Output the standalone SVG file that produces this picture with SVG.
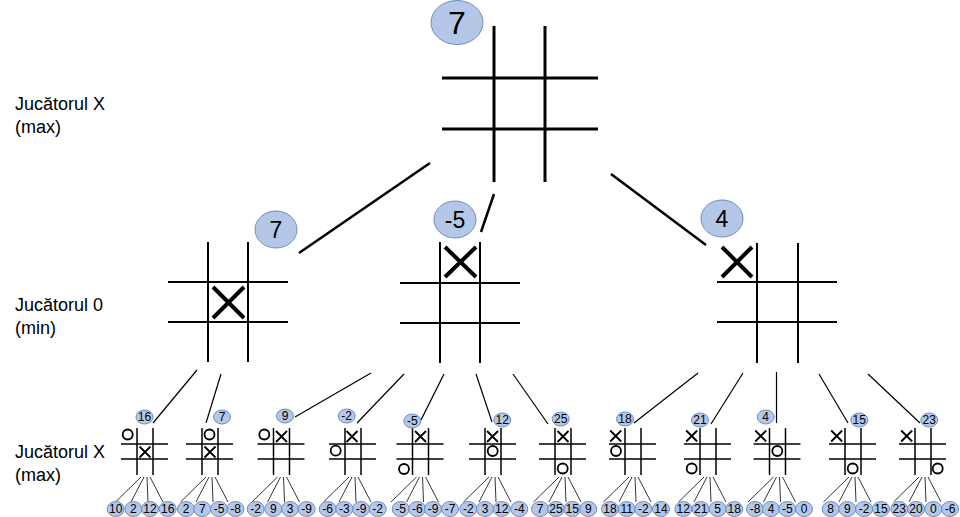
<svg xmlns="http://www.w3.org/2000/svg" width="960" height="517" viewBox="0 0 960 517">
<style>
.bg{fill:#fff}
.lbl{font-family:"Liberation Sans",Arial,sans-serif;font-size:18px;fill:#000}
.v{fill:#b4c7e7;stroke:#6a8ec6;stroke-width:1}
.vt{font-family:"Liberation Sans",Arial,sans-serif;fill:#000;text-anchor:middle}
.g0{stroke:#000;stroke-width:3;fill:none}
.g1{stroke:#000;stroke-width:2;fill:none}
.g2{stroke:#000;stroke-width:1.5;fill:none}
.x1{stroke:#000;stroke-width:4;fill:none}
.x2{stroke:#000;stroke-width:1.8;fill:none}
.o2{stroke:#000;stroke-width:1.8;fill:none}
.c0{stroke:#000;stroke-width:2.5;fill:none}
.c1{stroke:#000;stroke-width:1.2;fill:none}
.c2{stroke:#000;stroke-width:0.8;fill:none}
.lv{font-size:12px}
.mv{font-size:23px}
</style>
<defs>
<g id="sg">
<line class="g2" x1="16" y1="0" x2="16" y2="47"/>
<line class="g2" x1="32" y1="0" x2="32" y2="47"/>
<line class="g2" x1="0" y1="16" x2="47" y2="16"/>
<line class="g2" x1="0" y1="31" x2="47" y2="31"/>
</g>
<path id="sx" class="x2" d="M-5.5,-5.5L5.5,5.5M5.5,-5.5L-5.5,5.5"/>
<circle id="so" class="o2" r="5"/>
<path id="fan" class="c2" d="M20,49L-5.5,74M23,49L10,74M26,49L27,74M29,49L42,74"/>
</defs>
<rect class="bg" x="0" y="0" width="960" height="517"/>

<g id="labels">
<text class="lbl" x="15" y="110">Jucătorul X</text>
<text class="lbl" x="15" y="133">(max)</text>
<text class="lbl" x="15" y="311">Jucătorul 0</text>
<text class="lbl" x="15" y="334">(min)</text>
<text class="lbl" x="15" y="458">Jucătorul X</text>
<text class="lbl" x="15" y="481">(max)</text>
</g>

<g id="connectors">
<line class="c0" x1="430" y1="163" x2="299" y2="253"/>
<line class="c0" x1="494" y1="194" x2="481" y2="232"/>
<line class="c0" x1="611" y1="174" x2="706" y2="245"/>
<line class="c1" x1="197" y1="370" x2="153" y2="423"/>
<line class="c1" x1="221" y1="374" x2="206" y2="423"/>
<line class="c1" x1="371" y1="373" x2="295" y2="417"/>
<line class="c1" x1="404" y1="374" x2="357" y2="423"/>
<line class="c1" x1="444" y1="374" x2="421" y2="420"/>
<line class="c1" x1="476" y1="374" x2="492" y2="422"/>
<line class="c1" x1="513" y1="374" x2="548" y2="424"/>
<line class="c1" x1="698" y1="373" x2="634" y2="423"/>
<line class="c1" x1="743" y1="373" x2="711" y2="424"/>
<line class="c1" x1="776.5" y1="372" x2="776.5" y2="423"/>
<line class="c1" x1="819" y1="374" x2="848" y2="423"/>
<line class="c1" x1="868" y1="374" x2="920" y2="423"/>
</g>

<g id="root">
<line class="g0" x1="494" y1="26" x2="494" y2="182"/>
<line class="g0" x1="545" y1="26" x2="545" y2="182"/>
<line class="g0" x1="442" y1="78" x2="598" y2="78"/>
<line class="g0" x1="442" y1="129" x2="598" y2="129"/>
<ellipse class="v" cx="457" cy="22.5" rx="26" ry="22"/>
<text class="vt" x="457" y="34" font-size="32">7</text>
</g>

<g id="n-left">
<line class="g1" x1="208" y1="242" x2="208" y2="362"/>
<line class="g1" x1="248" y1="242" x2="248" y2="362"/>
<line class="g1" x1="168" y1="282" x2="288" y2="282"/>
<line class="g1" x1="168" y1="322" x2="288" y2="322"/>
<path class="x1" d="M213,287L244,318M244,287L213,318"/>
<ellipse class="v" cx="276" cy="229.5" rx="21" ry="18.5"/>
<text class="vt mv" x="276" y="237.5">7</text>
</g>

<g id="n-mid">
<line class="g1" x1="440" y1="242" x2="440" y2="363"/>
<line class="g1" x1="480" y1="242" x2="480" y2="363"/>
<line class="g1" x1="400" y1="283" x2="520" y2="283"/>
<line class="g1" x1="400" y1="323" x2="520" y2="323"/>
<path class="x1" d="M445,247L476,277M476,247L445,277"/>
<ellipse class="v" cx="455" cy="219.5" rx="21" ry="18.5"/>
<text class="vt mv" x="455" y="228">-5</text>
</g>

<g id="n-right">
<line class="g1" x1="757" y1="243" x2="757" y2="363"/>
<line class="g1" x1="798" y1="243" x2="798" y2="363"/>
<line class="g1" x1="717" y1="282" x2="837" y2="282"/>
<line class="g1" x1="717" y1="322" x2="837" y2="322"/>
<path class="x1" d="M722,247L752,277M752,247L722,277"/>
<ellipse class="v" cx="722" cy="218.5" rx="21" ry="18.5"/>
<text class="vt mv" x="722" y="226.5">4</text>
</g>

<g id="b1">
<use href="#sg" x="121" y="428"/>
<use href="#so" x="127.7" y="434.5"/>
<use href="#sx" x="145" y="452"/>
<ellipse class="v" cx="144.5" cy="417" rx="8.5" ry="7"/>
<text class="vt lv" x="144.5" y="421.3">16</text>
</g>
<g id="b2">
<use href="#sg" x="186" y="428"/>
<use href="#so" x="209.5" y="434.5"/>
<use href="#sx" x="210" y="452"/>
<ellipse class="v" cx="222" cy="417" rx="8.5" ry="7"/>
<text class="vt lv" x="222" y="421.3">7</text>
</g>
<g id="b3">
<use href="#sg" x="257.5" y="428"/>
<use href="#so" x="264.3" y="434.5"/>
<use href="#sx" x="281.5" y="436.5"/>
<ellipse class="v" cx="285" cy="416" rx="8.5" ry="7"/>
<text class="vt lv" x="285" y="420.3">9</text>
</g>
<g id="b4">
<use href="#sg" x="329" y="428"/>
<use href="#so" x="335.7" y="450.7"/>
<use href="#sx" x="352" y="436.5"/>
<ellipse class="v" cx="346.7" cy="416" rx="8.5" ry="7"/>
<text class="vt lv" x="346.7" y="420.3">-2</text>
</g>
<g id="b5">
<use href="#sg" x="396.5" y="428"/>
<use href="#so" x="404" y="469"/>
<use href="#sx" x="420.5" y="436.5"/>
<ellipse class="v" cx="412.3" cy="421" rx="8.5" ry="7"/>
<text class="vt lv" x="412.3" y="425.3">-5</text>
</g>
<g id="b6">
<use href="#sg" x="469" y="428"/>
<use href="#so" x="492.7" y="451"/>
<use href="#sx" x="492.5" y="436.5"/>
<ellipse class="v" cx="502.3" cy="420" rx="8.5" ry="7"/>
<text class="vt lv" x="502.3" y="424.3">12</text>
</g>
<g id="b7">
<use href="#sg" x="539" y="428"/>
<use href="#so" x="562.7" y="468.5"/>
<use href="#sx" x="563" y="436.5"/>
<ellipse class="v" cx="560.7" cy="419" rx="8.5" ry="7"/>
<text class="vt lv" x="560.7" y="423.3">25</text>
</g>
<g id="b8">
<use href="#sg" x="609" y="428"/>
<use href="#so" x="616" y="451"/>
<use href="#sx" x="615.7" y="436"/>
<ellipse class="v" cx="625" cy="419" rx="8.5" ry="7"/>
<text class="vt lv" x="625" y="423.3">18</text>
</g>
<g id="b9">
<use href="#sg" x="684" y="428"/>
<use href="#so" x="691.7" y="468.5"/>
<use href="#sx" x="691.7" y="436"/>
<ellipse class="v" cx="700" cy="420" rx="8.5" ry="7"/>
<text class="vt lv" x="700" y="424.3">21</text>
</g>
<g id="b10">
<use href="#sg" x="753.5" y="428"/>
<use href="#so" x="777.3" y="451"/>
<use href="#sx" x="760.7" y="436"/>
<ellipse class="v" cx="765.7" cy="417" rx="8.5" ry="7"/>
<text class="vt lv" x="765.7" y="421.3">4</text>
</g>
<g id="b11">
<use href="#sg" x="829" y="428"/>
<use href="#so" x="852.7" y="468.5"/>
<use href="#sx" x="836.7" y="436"/>
<ellipse class="v" cx="859.3" cy="420" rx="8.5" ry="7"/>
<text class="vt lv" x="859.3" y="424.3">15</text>
</g>
<g id="b12">
<use href="#sg" x="899" y="428"/>
<use href="#so" x="937.7" y="468.5"/>
<use href="#sx" x="906.7" y="436"/>
<ellipse class="v" cx="929.3" cy="420" rx="8.5" ry="7"/>
<text class="vt lv" x="929.3" y="424.3">23</text>
</g>

<g id="fans">
<use href="#fan" x="121" y="428"/>
<use href="#fan" x="186" y="428"/>
<use href="#fan" x="257.5" y="428"/>
<use href="#fan" x="329" y="428"/>
<use href="#fan" x="396.5" y="428"/>
<use href="#fan" x="469" y="428"/>
<use href="#fan" x="539" y="428"/>
<use href="#fan" x="609" y="428"/>
<use href="#fan" x="684" y="428"/>
<use href="#fan" x="753.5" y="428"/>
<use href="#fan" x="829" y="428"/>
<use href="#fan" x="899" y="428"/>
</g>

<g id="leaves">
<ellipse class="v" cx="115.7" cy="509" rx="8.5" ry="7.5"/><text class="vt lv" x="115.7" y="513.3">10</text>
<ellipse class="v" cx="133.3" cy="509" rx="8.5" ry="7.5"/><text class="vt lv" x="133.3" y="513.3">2</text>
<ellipse class="v" cx="150" cy="509" rx="8.5" ry="7.5"/><text class="vt lv" x="150" y="513.3">12</text>
<ellipse class="v" cx="167.7" cy="509" rx="8.5" ry="7.5"/><text class="vt lv" x="167.7" y="513.3">16</text>
<ellipse class="v" cx="186" cy="509" rx="8.5" ry="7.5"/><text class="vt lv" x="186" y="513.3">2</text>
<ellipse class="v" cx="202.3" cy="509" rx="8.5" ry="7.5"/><text class="vt lv" x="202.3" y="513.3">7</text>
<ellipse class="v" cx="219" cy="509" rx="8.5" ry="7.5"/><text class="vt lv" x="219" y="513.3">-5</text>
<ellipse class="v" cx="235.5" cy="509" rx="8.5" ry="7.5"/><text class="vt lv" x="235.5" y="513.3">-8</text>
<ellipse class="v" cx="255.7" cy="509" rx="8.5" ry="7.5"/><text class="vt lv" x="255.7" y="513.3">-2</text>
<ellipse class="v" cx="273.3" cy="509" rx="8.5" ry="7.5"/><text class="vt lv" x="273.3" y="513.3">9</text>
<ellipse class="v" cx="290" cy="509" rx="8.5" ry="7.5"/><text class="vt lv" x="290" y="513.3">3</text>
<ellipse class="v" cx="306.7" cy="509" rx="8.5" ry="7.5"/><text class="vt lv" x="306.7" y="513.3">-9</text>
<ellipse class="v" cx="327.7" cy="509" rx="8.5" ry="7.5"/><text class="vt lv" x="327.7" y="513.3">-6</text>
<ellipse class="v" cx="344.3" cy="509" rx="8.5" ry="7.5"/><text class="vt lv" x="344.3" y="513.3">-3</text>
<ellipse class="v" cx="361" cy="509" rx="8.5" ry="7.5"/><text class="vt lv" x="361" y="513.3">-9</text>
<ellipse class="v" cx="377.7" cy="509" rx="8.5" ry="7.5"/><text class="vt lv" x="377.7" y="513.3">-2</text>
<ellipse class="v" cx="400.7" cy="509" rx="8.5" ry="7.5"/><text class="vt lv" x="400.7" y="513.3">-5</text>
<ellipse class="v" cx="417.3" cy="509" rx="8.5" ry="7.5"/><text class="vt lv" x="417.3" y="513.3">-6</text>
<ellipse class="v" cx="433" cy="509" rx="8.5" ry="7.5"/><text class="vt lv" x="433" y="513.3">-9</text>
<ellipse class="v" cx="450" cy="509" rx="8.5" ry="7.5"/><text class="vt lv" x="450" y="513.3">-7</text>
<ellipse class="v" cx="468.3" cy="509" rx="8.5" ry="7.5"/><text class="vt lv" x="468.3" y="513.3">-2</text>
<ellipse class="v" cx="485" cy="509" rx="8.5" ry="7.5"/><text class="vt lv" x="485" y="513.3">3</text>
<ellipse class="v" cx="501.7" cy="509" rx="8.5" ry="7.5"/><text class="vt lv" x="501.7" y="513.3">12</text>
<ellipse class="v" cx="519.3" cy="509" rx="8.5" ry="7.5"/><text class="vt lv" x="519.3" y="513.3">-4</text>
<ellipse class="v" cx="540" cy="509" rx="8.5" ry="7.5"/><text class="vt lv" x="540" y="513.3">7</text>
<ellipse class="v" cx="556" cy="509" rx="8.5" ry="7.5"/><text class="vt lv" x="556" y="513.3">25</text>
<ellipse class="v" cx="572.3" cy="509" rx="8.5" ry="7.5"/><text class="vt lv" x="572.3" y="513.3">15</text>
<ellipse class="v" cx="588.3" cy="509" rx="8.5" ry="7.5"/><text class="vt lv" x="588.3" y="513.3">9</text>
<ellipse class="v" cx="610" cy="509" rx="8.5" ry="7.5"/><text class="vt lv" x="610" y="513.3">18</text>
<ellipse class="v" cx="626.7" cy="509" rx="8.5" ry="7.5"/><text class="vt lv" x="626.7" y="513.3">11</text>
<ellipse class="v" cx="643.3" cy="509" rx="8.5" ry="7.5"/><text class="vt lv" x="643.3" y="513.3">-2</text>
<ellipse class="v" cx="661" cy="509" rx="8.5" ry="7.5"/><text class="vt lv" x="661" y="513.3">14</text>
<ellipse class="v" cx="683.3" cy="509" rx="8.5" ry="7.5"/><text class="vt lv" x="683.3" y="513.3">12</text>
<ellipse class="v" cx="700.7" cy="509" rx="8.5" ry="7.5"/><text class="vt lv" x="700.7" y="513.3">21</text>
<ellipse class="v" cx="717.7" cy="509" rx="8.5" ry="7.5"/><text class="vt lv" x="717.7" y="513.3">5</text>
<ellipse class="v" cx="734.3" cy="509" rx="8.5" ry="7.5"/><text class="vt lv" x="734.3" y="513.3">18</text>
<ellipse class="v" cx="755" cy="509" rx="8.5" ry="7.5"/><text class="vt lv" x="755" y="513.3">-8</text>
<ellipse class="v" cx="771" cy="509" rx="8.5" ry="7.5"/><text class="vt lv" x="771" y="513.3">4</text>
<ellipse class="v" cx="787.3" cy="509" rx="8.5" ry="7.5"/><text class="vt lv" x="787.3" y="513.3">-5</text>
<ellipse class="v" cx="804" cy="509" rx="8.5" ry="7.5"/><text class="vt lv" x="804" y="513.3">0</text>
<ellipse class="v" cx="830.7" cy="509" rx="8.5" ry="7.5"/><text class="vt lv" x="830.7" y="513.3">8</text>
<ellipse class="v" cx="847.3" cy="509" rx="8.5" ry="7.5"/><text class="vt lv" x="847.3" y="513.3">9</text>
<ellipse class="v" cx="864" cy="509" rx="8.5" ry="7.5"/><text class="vt lv" x="864" y="513.3">-2</text>
<ellipse class="v" cx="881" cy="509" rx="8.5" ry="7.5"/><text class="vt lv" x="881" y="513.3">15</text>
<ellipse class="v" cx="899.3" cy="509" rx="8.5" ry="7.5"/><text class="vt lv" x="899.3" y="513.3">23</text>
<ellipse class="v" cx="916" cy="509" rx="8.5" ry="7.5"/><text class="vt lv" x="916" y="513.3">20</text>
<ellipse class="v" cx="933.3" cy="509" rx="8.5" ry="7.5"/><text class="vt lv" x="933.3" y="513.3">0</text>
<ellipse class="v" cx="950" cy="509" rx="8.5" ry="7.5"/><text class="vt lv" x="950" y="513.3">-6</text>
</g>
</svg>
